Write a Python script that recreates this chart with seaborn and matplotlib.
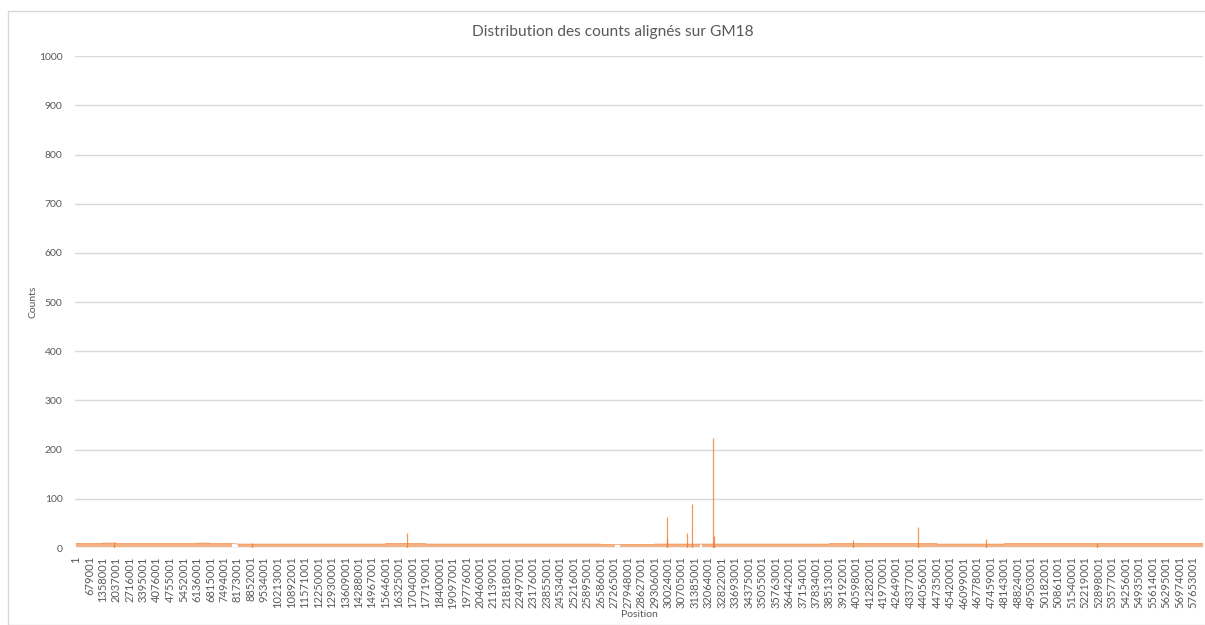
import numpy as np
import pandas as pd
import matplotlib.pyplot as plt
import seaborn as sns

# x axis is the bin number (one bin = 1000 bp), Excel prints a label every 679 bins
tick_labels = [1, 679001, 1358001, 2037001, 2716001, 3395001, 4076001, 4755001,
               5452001, 6136001, 6815001, 7494001, 8173001, 8852001, 9534001,
               10213001, 10892001, 11571001, 12250001, 12930001, 13609001,
               14288001, 14967001, 15646001, 16325001, 17040001, 17719001,
               18400001, 19097001, 19776001, 20460001, 21139001, 21818001,
               22497001, 23176001, 23855001, 24534001, 25216001, 25895001,
               26586001, 27265001, 27948001, 28627001, 29306001, 30024001,
               30705001, 31385001, 32064001, 32822001, 33693001, 34375001,
               35055001, 35763001, 36442001, 37154001, 37834001, 38513001,
               39192001, 40598001, 41282001, 41970001, 42649001, 43377001,
               44056001, 44735001, 45420001, 46099001, 46778001, 47459001,
               48143001, 48824001, 49503001, 50182001, 50861001, 51540001,
               52219001, 52898001, 53577001, 54256001, 54935001, 55614001,
               56295001, 56974001, 57653001]

# background level of the counts between two labels (read roughly)
band_top = [9, 9, 10, 9, 9, 9, 9, 9, 9, 10, 9, 9, 8, 8, 8, 8, 8, 8, 8, 8,
            8, 8, 8, 9, 9, 9, 8, 8, 8, 8, 8, 8, 8, 8, 8, 8, 8, 8, 8, 7,
            7, 7, 7, 8, 8, 8, 8, 8, 8, 8, 8, 8, 8, 8, 8, 8, 9, 9, 9, 9,
            9, 9, 9, 9, 8, 8, 8, 8, 8, 9, 9, 9, 9, 9, 9, 9, 9, 9, 9, 9,
            9, 9, 9, 9]
band_low = 2

# empty stretches (bin numbers)
gap_start = [7870, 27190, 31480]
gap_end = [8170, 27450, 31590]

# isolated peaks: bin number and count
spike_bin = [1920, 8900, 16725, 29803, 29830, 30812, 31095, 32124, 32205,
             39200, 42467, 45913, 51500]
spike_count = [12, 11, 30, 64, 20, 30, 89, 224, 24, 16, 42, 18, 11]

N_BINS = 56900
TICK_STEP = 679
ORANGE = "#ED7D31"
GREY = "#595959"

sns.set_theme(style="whitegrid")
plt.rcParams['font.family'] = ['Lato', 'DejaVu Sans']

bins = np.arange(N_BINS)
top = np.repeat(np.array(band_top, dtype=float), TICK_STEP)[:N_BINS]
for s, e in zip(gap_start, gap_end):
    top[s:e] = np.nan
df = pd.DataFrame({'bin': bins, 'counts': top})

fig = plt.figure(figsize=(12.05, 6.25), dpi=100)
ax = fig.add_axes([0.0622, 0.1232, 0.936, 0.787])

ax.fill_between(df['bin'], band_low, df['counts'], color=ORANGE, alpha=0.6,
                linewidth=0)
sns.lineplot(data=df, x='bin', y='counts', color=ORANGE, linewidth=0.5,
             alpha=0.8, ax=ax)
ax.vlines(spike_bin, 0, spike_count, color=ORANGE, linewidth=0.9, alpha=0.8)

ax.set_xlim(-50, 56860)
ax.set_ylim(0, 1000)
ax.set_yticks(range(0, 1001, 100))
ax.set_xticks([i * TICK_STEP for i in range(len(tick_labels))])
ax.set_xticklabels([str(t) for t in tick_labels], rotation=90, fontsize=8,
                   color=GREY)
ax.tick_params(axis='y', labelsize=7.5, labelcolor=GREY, pad=9, length=0)
ax.tick_params(axis='x', pad=6, length=0)

ax.grid(axis='x', visible=False)
ax.grid(axis='y', color='#d9d9d9', linewidth=1)
for side in ['top', 'right', 'left', 'bottom']:
    ax.spines[side].set_visible(False)
ax.axhline(0, color='#d9d9d9', linewidth=1, zorder=0)

fig.text(613 / 1205, 1 - 32 / 625, 'Distribution des counts alignés sur GM18',
         fontsize=11.2, color=GREY, ha='center', va='center')
ax.set_xlabel('Position', fontsize=7.5, color=GREY, labelpad=1)
ax.set_ylabel('Counts', fontsize=7.5, color=GREY, labelpad=1)

# outer chart border like the Excel chart area
fig.patches.append(plt.Rectangle((8 / 1205, 0.0), 1.0, 1 - 11 / 625,
                                 transform=fig.transFigure, fill=False,
                                 edgecolor='#d9d9d9', linewidth=1))

fig.savefig('out.png', dpi=100)
